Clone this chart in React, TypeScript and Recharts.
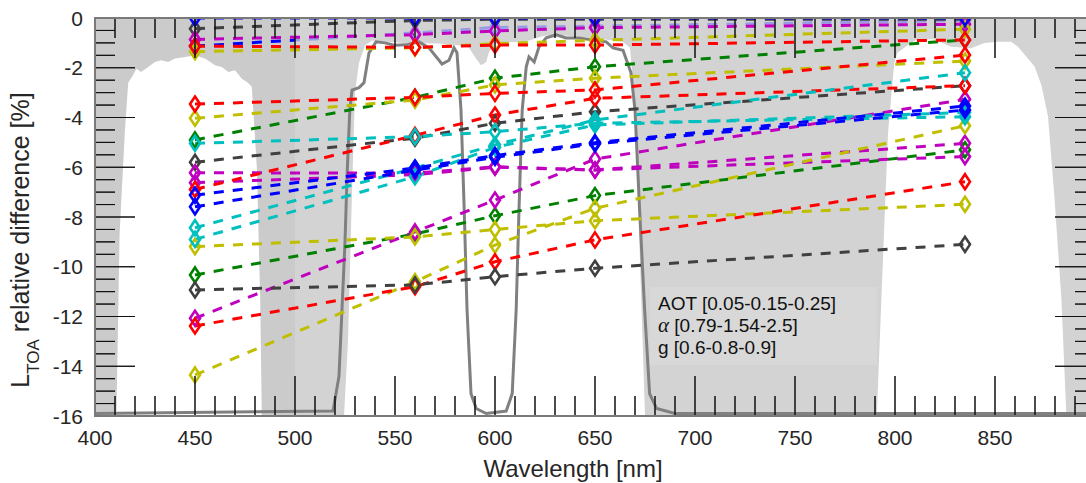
import React from 'react';
import { Area, ComposedChart, Line, XAxis, YAxis } from 'recharts';

// band centres [nm]
const bands = [450, 560, 600, 650, 835];

// L_TOA relative difference [%] per band, one array per run
const blueA = [0, 0, 0, 0, 0];
const blueB = [-1.13, -0.6, -0.38, -0.33, -0.1];
const blueC = [-7.12, -6.03, -5.53, -5.01, -3.54];
const blueD = [-7.59, -6.12, -5.6, -5.06, -3.7];
const greenA = [-4.9, -3.19, -2.42, -1.96, -0.88];
const greenB = [-10.33, -8.68, -7.95, -7.14, -5.3];
const redA = [-1.13, -1.18, -1.09, -1.09, -0.88];
const redB = [-3.46, -3.19, -3.03, -2.89, -1.49];
const redC = [-6.89, -4.72, -3.9, -3.23, -2.72];
const redD = [-12.38, -10.8, -9.8, -8.92, -6.58];
const cyanA = [-5.04, -4.77, -4.57, -4.23, -3.97];
const cyanB = [-8.43, -6.03, -5.1, -4.1, -2.2];
const cyanC = [-8.9, -6.38, -5.2, -4.3, -3.8];
const magentaA = [-0.86, -0.67, -0.52, -0.39, -0.25];
const magentaB = [-6.22, -6.24, -5.98, -6.11, -5.04];
const magentaC = [-6.62, -6.3, -6.0, -6.11, -5.57];
const magentaD = [-12.07, -8.6, -7.32, -5.67, -3.27];
const yellowA = [-1.35, -1.2, -1.03, -0.9, -0.45];
const yellowB = [-4.03, -3.3, -2.69, -2.42, -1.73];
const yellowC = [-9.19, -8.8, -8.5, -8.15, -7.49];
const yellowD = [-14.35, -10.6, -9.13, -7.65, -4.33];
const grayA = [-0.43, -0.1, -0.05, -0.05, -0.05];
const grayB = [-5.8, -4.83, -4.23, -3.77, -2.72];
const grayC = [-10.93, -10.73, -10.4, -10.06, -9.1];

// grey shading: lower edge of the out-of-band envelope (filled up to 0)
const shadeNm = [400, 410.7, 412.3, 414.9, 416.6, 419, 420.7, 423, 426.6, 430, 433, 436.6, 440, 445, 450, 455, 460, 463.4, 466.7, 470, 473.4, 476, 478.4, 480.9, 482.6, 483.4, 500, 524.5, 526.5, 528.5, 530, 532, 535, 538.6, 543.5, 555, 572, 582, 587, 590.5, 593, 595.5, 597, 600.5, 607, 614, 617, 624, 630.6, 637.3, 644, 650.7, 659, 664, 667.5, 669, 671, 673, 675, 790.9, 794.5, 796.5, 799.6, 801.2, 807.9, 811.3, 819.6, 828, 838, 844.7, 851.4, 858.1, 861.5, 869.8, 873.2, 876.5, 879.8, 883.2, 885.7, 900];
const shadePct = [-16, -16, -8.7, -4.6, -2.6, -2.3, -2.04, -2.17, -1.97, -1.77, -1.7, -1.77, -1.63, -1.57, -1.5, -1.63, -1.9, -1.97, -2.17, -2.1, -2.44, -2.57, -2.76, -5.98, -11.3, -16, -16, -16, -13, -7, -3, -1.8, -1.1, -0.9, -0.94, -1.0, -1.03, -1.1, -1.2, -1.63, -1.9, -1.78, -1.37, -1.03, -0.97, -0.95, -0.9, -0.72, -0.67, -0.72, -0.76, -0.82, -0.9, -0.96, -1.2, -2.5, -6, -11, -16, -16, -8.65, -4.64, -1.82, -1.4, -1.0, -0.85, -0.85, -1.16, -1.22, -1.0, -0.95, -0.95, -1.16, -1.95, -2.7, -3.96, -7.3, -11.3, -16, -16];

// dual-band filter transmission, scaled onto the same axis
const filterNm = [400, 519, 522, 523.5, 525, 526, 527.4, 528.5, 532, 534.5, 537, 540.5, 545, 550, 555.5, 562, 567, 573.5, 577, 579.5, 581, 583, 584.6, 586, 588, 590.6, 595.6, 605.6, 608.6, 610.6, 612, 613.6, 615.6, 617, 619.6, 622, 625.6, 630.6, 635.6, 642, 648.6, 655.6, 659, 664, 668, 670, 672.3, 674.8, 677.3, 680.8, 690, 900];
const filterPct = [-15.9, -15.8, -14.4, -11.7, -9.0, -6.4, -3.7, -2.9, -2.8, -2.6, -1.4, -0.96, -1.0, -1.1, -1.08, -0.96, -1.2, -1.85, -1.7, -1.2, -1.4, -3.7, -7.7, -11.7, -15.1, -15.7, -15.9, -15.8, -15.1, -11.7, -7.7, -3.7, -1.97, -1.56, -1.77, -1.16, -0.8, -0.68, -0.8, -0.8, -0.88, -0.96, -1.2, -1.3, -2.2, -3.7, -7.7, -11.7, -15.1, -15.7, -15.9, -15.9];

const xLabels = [400, 450, 500, 550, 600, 650, 700, 750, 800, 850];
const xMajor = [400, 450, 500, 550, 600, 650, 700, 750, 800, 850, 900];
const yLabels = [-16, -14, -12, -10, -8, -6, -4, -2, 0];

const range = (a: number, b: number, s: number) =>
  Array.from({ length: Math.round((b - a) / s) + 1 }, (_, i) => a + i * s);
const xTicks = range(400, 900, 10);
const yTicks = range(-16, 0, 0.5);

const BLUE = '#0000ff';
const GREEN = '#008000';
const RED = '#ff0000';
const CYAN = '#00bfbf';
const MAGENTA = '#bf00bf';
const YELLOW = '#bfbf00';
const DARK = '#404040';
const INK = '#262626';
const FONT = '"Liberation Sans", Arial, Helvetica, sans-serif';

// drawing order: later ones end up on top
const series = [
  { key: 'blueB', values: blueB, color: 'url(#fadedBlue)' },
  { key: 'grayA', values: grayA, color: DARK },
  { key: 'grayB', values: grayB, color: DARK },
  { key: 'greenA', values: greenA, color: GREEN },
  { key: 'greenB', values: greenB, color: GREEN },
  { key: 'magentaA', values: magentaA, color: MAGENTA },
  { key: 'magentaB', values: magentaB, color: MAGENTA },
  { key: 'magentaC', values: magentaC, color: MAGENTA },
  { key: 'magentaD', values: magentaD, color: MAGENTA },
  { key: 'yellowA', values: yellowA, color: YELLOW },
  { key: 'yellowB', values: yellowB, color: YELLOW },
  { key: 'yellowC', values: yellowC, color: YELLOW },
  { key: 'yellowD', values: yellowD, color: YELLOW },
  { key: 'redA', values: redA, color: RED },
  { key: 'redB', values: redB, color: RED },
  { key: 'redC', values: redC, color: RED },
  { key: 'redD', values: redD, color: RED },
  { key: 'cyanA', values: cyanA, color: CYAN },
  { key: 'cyanB', values: cyanB, color: CYAN },
  { key: 'cyanC', values: cyanC, color: CYAN },
  { key: 'grayC', values: grayC, color: DARK },
  { key: 'blueC', values: blueC, color: BLUE },
  { key: 'blueD', values: blueD, color: BLUE },
  { key: 'blueA', values: blueA, color: BLUE },
];

const toPoints = (values: number[]) => bands.map((x, i) => ({ x, y: values[i] }));
const shade = shadeNm.map((x, i) => ({ x, y: shadePct[i] }));
const shadeDark = shade.filter((p) => p.x <= 500);
const shadeLight = shade.filter((p) => p.x >= 500);
const filterCurve = filterNm.map((x, i) => ({ x, y: filterPct[i] }));

// chart geometry (plot box 95..1095 x 18..416)
const W = 1095;
const H = 483;
const M = { top: 18, right: 0, bottom: 0, left: 0 };
const AXIS_H = 67;
const AXIS_W = 95;
const PLOT = { left: AXIS_W, right: W, top: M.top, bottom: H - AXIS_H };
const PLOT_W = PLOT.right - PLOT.left;
const PLOT_H = PLOT.bottom - PLOT.top;
// same linear mapping the chart axes use, for the MATLAB-style inward ticks
const sx = (nm: number) => PLOT.left + ((nm - 400) / 500) * PLOT_W;
const sy = (v: number) => PLOT.top + (v / -16) * PLOT_H;

function diamond(color: string) {
  return (p: any) => {
    const { cx, cy, index } = p;
    if (cx == null || cy == null) return <g key={`d${index}`} />;
    return (
      <path
        key={`d${index}`}
        d={`M${cx},${cy - 7.5}L${cx + 5},${cy}L${cx},${cy + 7.5}L${cx - 5},${cy}Z`}
        fill="none"
        stroke={color}
        strokeWidth={2.6}
      />
    );
  };
}

// bottom axis: inward tick on the bottom and the matching one on the top edge
const BottomTick = (p: any) => {
  const x = Number(p.x);
  const y = Number(p.y);
  const v = p.payload.value;
  const len = xMajor.includes(v) ? 40 : 20;
  return (
    <g>
      <line x1={x} x2={x} y1={y} y2={y - len} stroke="#111" strokeWidth={1} />
      <line x1={x} x2={x} y1={y - PLOT_H} y2={y - PLOT_H + len} stroke="#111" strokeWidth={1} />
      {xLabels.includes(v) && (
        <text x={x} y={y + 29} textAnchor="middle" fontSize={21} fill={INK} fontFamily={FONT}>
          {v}
        </text>
      )}
    </g>
  );
};

// left axis: inward tick on the left and the matching one on the right edge
const LeftTick = (p: any) => {
  const x = Number(p.x);
  const y = Number(p.y);
  const v = p.payload.value;
  const major = yLabels.includes(v);
  const len = major ? 40 : 20;
  return (
    <g>
      <line x1={x} x2={x + len} y1={y} y2={y} stroke="#111" strokeWidth={1} />
      <line x1={x + PLOT_W} x2={x + PLOT_W - len} y1={y} y2={y} stroke="#111" strokeWidth={1} />
      {major && (
        <text x={x - 12} y={y} dy="0.36em" textAnchor="end" fontSize={21} fill={INK} fontFamily={FONT}>
          {v}
        </text>
      )}
    </g>
  );
};

function TickMarks() {
  const parts: string[] = [];
  xTicks.forEach((v) => {
    const len = xMajor.includes(v) ? 40 : 20;
    const x = sx(v);
    parts.push(`M${x} ${PLOT.bottom} V${PLOT.bottom - len}`);
    parts.push(`M${x} ${PLOT.top} V${PLOT.top + len}`);
  });
  yTicks.forEach((v) => {
    const len = yLabels.includes(v) ? 40 : 20;
    const y = sy(v);
    parts.push(`M${PLOT.left} ${y} H${PLOT.left + len}`);
    parts.push(`M${PLOT.right} ${y} H${PLOT.right - len}`);
  });
  return <path d={parts.join(' ')} stroke="#111" strokeWidth={1} fill="none" />;
}

const plain = { xAxisId: 'b', yAxisId: 'l', type: 'linear' as const, dot: false, activeDot: false, isAnimationActive: false };

export default function App() {
  return (
    <div style={{ position: 'absolute', left: 0, top: 0, width: 1086, height: 483, overflow: 'hidden', background: '#fff' }}>
      <ComposedChart width={W} height={H} margin={M}>
        <defs>
          <linearGradient id="fadedBlue" gradientUnits="userSpaceOnUse" x1={95} y1={0} x2={1095} y2={0}>
            <stop offset={0} stopColor={BLUE} />
            <stop offset={0.2} stopColor={BLUE} />
            <stop offset={0.2} stopColor="#9a9ae6" />
            <stop offset={1} stopColor="#9a9ae6" />
          </linearGradient>
        </defs>
        <Area {...plain} data={shadeDark} dataKey="y" baseValue={0} stroke="none" fill="#cbcbcb" fillOpacity={1} />
        <Area {...plain} data={shadeLight} dataKey="y" baseValue={0} stroke="none" fill="#d3d3d3" fillOpacity={1} />
        <Line {...plain} data={filterCurve} dataKey="y" stroke="#808080" strokeWidth={3} />
        {series.map((s) => (
          <Line
            key={s.key}
            {...plain}
            data={toPoints(s.values)}
            dataKey="y"
            stroke={s.color}
            strokeWidth={3}
            strokeDasharray="10 9"
            dot={diamond(s.color)}
          />
        ))}
        <XAxis xAxisId="b" type="number" dataKey="x" domain={[400, 900]} allowDataOverflow ticks={xTicks} interval={0}
          height={AXIS_H} tickSize={0} tickMargin={0} tickLine={false} axisLine={false} tick={<BottomTick />} />
        <YAxis yAxisId="l" type="number" domain={[-16, 0]} allowDataOverflow ticks={yTicks} interval={0}
          width={AXIS_W} tickSize={0} tickMargin={0} tickLine={false} axisLine={false} tick={<LeftTick />} />
      </ComposedChart>
      <svg width={1086} height={483} style={{ position: 'absolute', left: 0, top: 0, zIndex: 2, pointerEvents: 'none' }}>
        <TickMarks />
        <rect x={PLOT.left} y={PLOT.top} width={PLOT_W} height={PLOT_H} fill="none" stroke="#7a7a7a" strokeWidth={2} />
        <text x={573} y={477} textAnchor="middle" fontSize={24} fill={INK} fontFamily={FONT}>
          Wavelength [nm]
        </text>
        <text transform="translate(29,240) rotate(-90)" textAnchor="middle" fontSize={25} fill={INK} fontFamily={FONT}>
          <tspan>L</tspan>
          <tspan fontSize={17} dy={10}>TOA</tspan>
          <tspan dy={-10}>{' relative difference [%]'}</tspan>
        </text>
        <rect x={650} y={287} width={227} height={78} fill="#d8d8d8" />
        <text x={658} y={310} fontSize={19} fill="#111" fontFamily={FONT}>
          AOT [0.05-0.15-0.25]
        </text>
        <text x={658} y={332} fontSize={19} fill="#111" fontFamily={FONT}>
          <tspan fontFamily='"Liberation Serif", "DejaVu Serif", serif' fontStyle="italic" fontSize={21}>α</tspan>
          <tspan>{' [0.79-1.54-2.5]'}</tspan>
        </text>
        <text x={658} y={354} fontSize={19} fill="#111" fontFamily={FONT}>
          g [0.6-0.8-0.9]
        </text>
      </svg>
    </div>
  );
}
